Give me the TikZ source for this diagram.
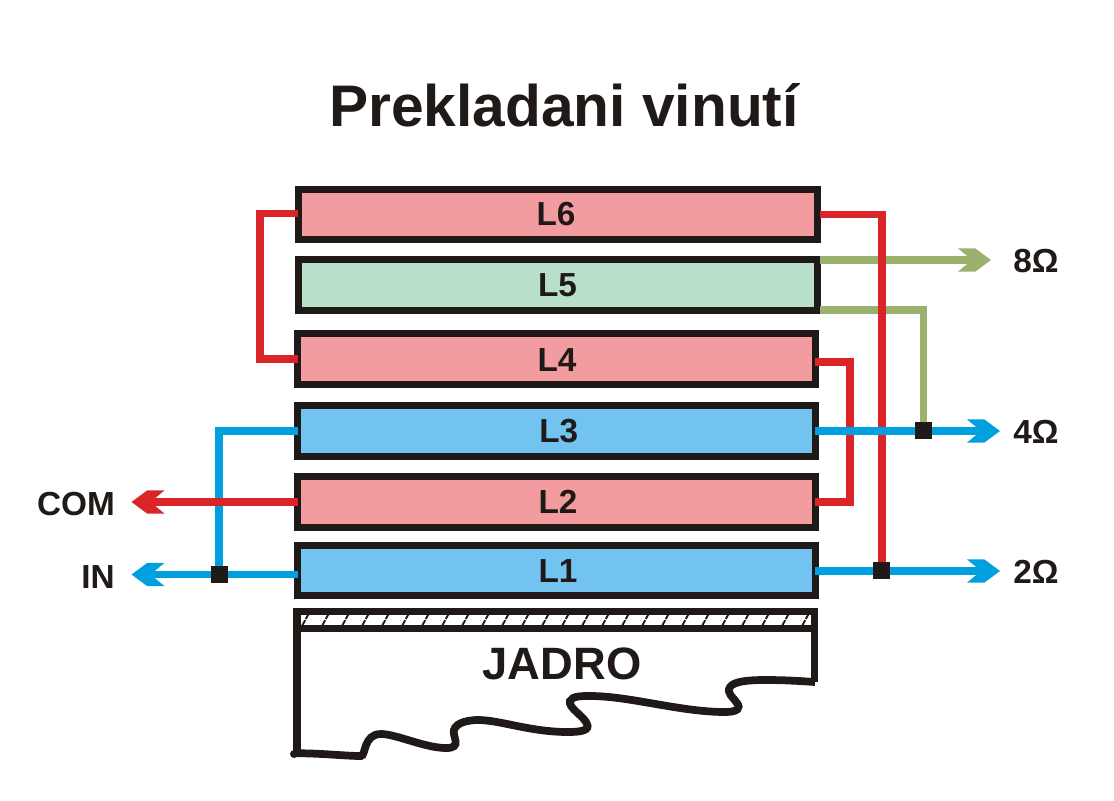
\documentclass[tikz,border=0pt]{standalone}
\usepackage{fontspec}
\setmainfont{Liberation Sans}
\usetikzlibrary{arrows.meta}
\definecolor{inkk}{HTML}{1F1A17}
\definecolor{pinkf}{HTML}{F29C9F}
\definecolor{greenf}{HTML}{B7DFC9}
\definecolor{bluef}{HTML}{72C3EF}
\definecolor{redw}{HTML}{DA2528}
\definecolor{bluew}{HTML}{00A0DF}
\definecolor{greenw}{HTML}{9BB26F}
\pgfdeclarearrow{
  name=Chev,
  setup code={
    \pgfarrowssettipend{0pt}
    \pgfarrowssetlineend{-14pt}
    \pgfarrowssetvisualbackend{-14pt}
    \pgfarrowssetbackend{-24.75pt}
    \pgfarrowshullpoint{0pt}{0pt}
    \pgfarrowshullpoint{-24.75pt}{8.7pt}
    \pgfarrowshullpoint{-24.75pt}{-8.7pt}
  },
  drawing code={
    \pgfpathmoveto{\pgfqpoint{0pt}{0pt}}
    \pgfpathlineto{\pgfqpoint{-11.75pt}{8.7pt}}
    \pgfpathlineto{\pgfqpoint{-24.75pt}{8.7pt}}
    \pgfpathlineto{\pgfqpoint{-14.25pt}{0pt}}
    \pgfpathlineto{\pgfqpoint{-24.75pt}{-8.7pt}}
    \pgfpathlineto{\pgfqpoint{-11.75pt}{-8.7pt}}
    \pgfpathclose
    \pgfusepathqfill
  }
}
\tikzset{
  coil/.style={draw=inkk,line width=5.6pt,inner sep=0pt,outer sep=0pt},
  wire/.style={line width=5.8pt},
  lab/.style={text=inkk,inner sep=0pt,font=\fontsize{25}{25}\selectfont\bfseries},
  tag/.style={text=inkk,inner sep=0pt,font=\fontsize{25}{25}\selectfont\bfseries},
  junc/.style={fill=inkk,draw=none,minimum size=12.75pt,inner sep=0pt,outer sep=0pt},
  port/.style={-{Chev}}
}
% name, x1, y1, x2, y2, fill
\newcommand{\coilbox}[6]{%
  \pgfmathsetmacro{\cw}{(#4-#2-7.47)*.75}%
  \pgfmathsetmacro{\ch}{(#5-#3-7.47)*.75}%
  \node[coil,fill=#6,minimum width=\cw pt,minimum height=\ch pt] (#1) at ({(#2+#4)/2},{(#3+#5)/2}) {};%
}
\begin{document}
\begin{tikzpicture}[x=.75pt,y=-.75pt]
\useasboundingbox (0,0) rectangle (1114,800);
\fill[white] (0,0) rectangle (1114,800);

\node[text=inkk,inner sep=0pt,font=\fontsize{44}{44}\selectfont\bfseries] (title) at (564,105) {Prekladani vinutí};

\coilbox{B6}{295}{186}{821}{243}{pinkf}
\coilbox{B5}{295}{256}{821}{314}{greenf}
\coilbox{B4}{293.5}{330}{819}{388}{pinkf}
\coilbox{B3}{294}{402}{819}{460}{bluef}
\coilbox{B2}{293.5}{473}{819}{531}{pinkf}
\coilbox{B1}{294}{542}{819}{599}{bluef}
\node[lab] (L6) at (556,214) {L6};
\node[lab] (L5) at (557.5,285) {L5};
\node[lab] (L4) at (557,360) {L4};
\node[lab] (L3) at (558.7,430.7) {L3};
\node[lab] (L2) at (558,501.7) {L2};
\node[lab] (L1) at (558,570.7) {L1};

% core
\node[draw=inkk,line width=5.6pt,fill=white,inner sep=0pt,outer sep=0pt,minimum width=388.3pt,minimum height=12.6pt] (strip) at (555.8,620) {};
\begin{scope}
  \clip (301,615) rectangle (811,625.2);
  \foreach \hx in {302,322,...,802} {
    \draw[inkk,line width=1.4pt,dash pattern=on 5pt off .9pt] (\hx,626) -- (\hx+6.5,614);
  }
\end{scope}
\coordinate (legL) at (296.9,631);
\coordinate (legR) at (814.7,631);
\coordinate (endL) at (296.9,753);
\coordinate (endR) at (814.7,682);
\draw[inkk,line width=5.5pt] (legL) -- (endL);
\draw[inkk,line width=5.5pt] (legR) -- (endR);
\draw[inkk,line width=5.8pt] (294,753.3) .. controls (320,753) and (345,756) .. (361,756)
  .. controls (366,756) and (363,734) .. (381,734)
  .. controls (396,734) and (425,748) .. (446,748)
  .. controls (463,748) and (452,737) .. (454,730)
  .. controls (456,722) and (470,720) .. (478,720)
  .. controls (500,720) and (530,732) .. (568,732)
  .. controls (582,732) and (590,730) .. (587,724)
  .. controls (584,716) and (568,708) .. (570,701)
  .. controls (572,696) and (582,696) .. (590,696)
  .. controls (630,696) and (680,712) .. (725,712)
  .. controls (738,712) and (741,708) .. (737,703)
  .. controls (733,697) and (726,693) .. (730,687)
  .. controls (734,681) and (750,680) .. (765,680)
  .. controls (785,680) and (800,681) .. (815,682);
\fill[inkk] (294,754) circle (4);
\node[lab,font=\fontsize{34}{34}\selectfont\bfseries] (jadro) at (562,664) {JADRO};

% labels
\node[tag] (t8) at (1036,261) {8Ω};
\node[tag] (t4) at (1036,432) {4Ω};
\node[tag] (t2) at (1036,572) {2Ω};
\node[tag] (tcom) at (76,504) {COM};
\node[tag] (tin) at (98,577) {IN};

% ports and rails
\coordinate (a8) at (991,260);
\coordinate (a4) at (1000,431);
\coordinate (a2) at (1000,571);
\coordinate (acom) at (131.5,502);
\coordinate (ain) at (131.5,574.5);
\coordinate (p6w) at (297.5,213.5);
\coordinate (p4w) at (297.5,359);
\coordinate (p3w) at (297.5,431);
\coordinate (p2w) at (297.5,502);
\coordinate (p1w) at (297.5,574.5);
\coordinate (p6e) at (820,214.5);
\coordinate (p5a) at (820,260);
\coordinate (p5b) at (820,309.7);
\coordinate (p4e) at (815,362);
\coordinate (p3e) at (815,431);
\coordinate (p2e) at (815,502);
\coordinate (p1e) at (815,571);
\coordinate (railL) at (260.3,300);
\coordinate (railM) at (850.3,430);

\node[junc] (j1) at (219,574.5) {};
\node[junc] (j2) at (881.7,570.5) {};
\node[junc] (j4) at (923.5,430.7) {};

\draw[wire,greenw,port] (p5a) -- (a8);
\draw[wire,greenw] (p5b) -| (j4.center);
\draw[wire,redw] (p6w) -| (railL) |- (p4w);
\draw[wire,redw] (p6e) -| (j2.center);
\draw[wire,redw] (p4e) -| (railM) |- (p2e);
\draw[wire,bluew,port] (p3e) -- (a4);
\draw[wire,bluew,port] (p1e) -- (a2);
\draw[wire,bluew,port] (p1w) -- (ain);
\draw[wire,bluew] (p3w) -| (j1.center);
\draw[wire,redw,port] (p2w) -- (acom);

\node[junc] at (j1) {};
\node[junc] at (j2) {};
\node[junc] at (j4) {};
\end{tikzpicture}
\end{document}
